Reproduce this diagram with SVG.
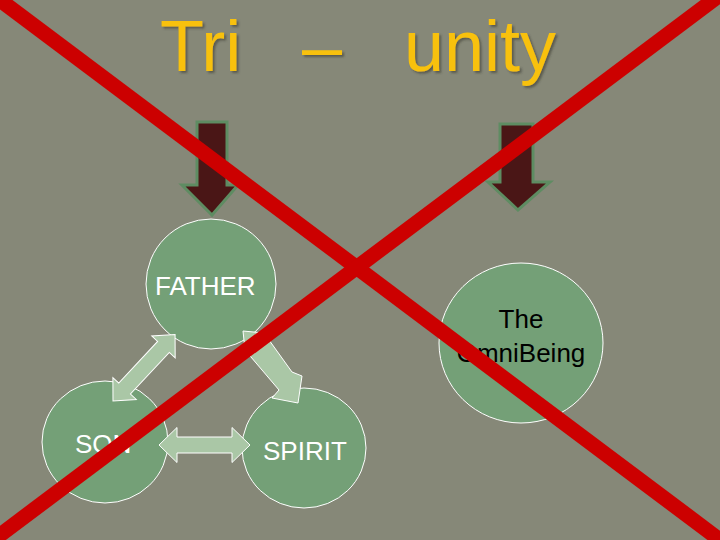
<svg xmlns="http://www.w3.org/2000/svg" width="720" height="540" viewBox="0 0 720 540">
<defs>
<filter id="ts" x="-10%" y="-10%" width="130%" height="140%">
<feDropShadow dx="2" dy="2" stdDeviation="1" flood-color="#3c3c30" flood-opacity="0.6"/>
</filter>
</defs>
<style>
.title{font-family:"Liberation Sans",Arial,sans-serif;font-size:72px;fill:#f8c10c;filter:url(#ts)}
.node{fill:#74a077;stroke:#ffffff;stroke-width:1}
.wl{font-family:"Liberation Sans",Arial,sans-serif;font-size:26px;fill:#ffffff}
.bl{font-family:"Liberation Sans",Arial,sans-serif;font-size:26px;fill:#000000;text-anchor:middle}
.down{fill:#4a1616;stroke:#5e8c62;stroke-width:3;stroke-linejoin:miter}
.link{fill:#aac7a6;stroke:#ffffff;stroke-width:1}
.cross{stroke:#cc0000;stroke-width:15;stroke-linecap:butt}
</style>
<rect width="720" height="540" fill="#868878"/>
<g id="title">
<text class="title" x="160" y="71">Tri</text>
<text class="title" x="302" y="71">–</text>
<text class="title" x="404" y="71">unity</text>
</g>
<g id="arrow-left">
<polygon class="down" points="197,122 227,122 227,185 238,185 212,215 182,185 197,185"/>
</g>
<g id="arrow-right">
<polygon class="down" points="500,124 533,124 533,182 550,182 518,210 488,182 500,182"/>
</g>
<g id="father">
<circle class="node" cx="211" cy="284" r="65"/>
<text class="wl" x="155" y="295">FATHER</text>
</g>
<g id="son">
<ellipse class="node" cx="105" cy="442" rx="63" ry="61"/>
<text class="wl" x="75" y="453">SON</text>
</g>
<g id="spirit">
<ellipse class="node" cx="304" cy="448" rx="62" ry="60"/>
<text class="wl" x="263" y="460">SPIRIT</text>
</g>
<g id="omnibeing">
<ellipse class="node" cx="521" cy="343" rx="82" ry="80"/>
<text class="bl" x="521" y="328">The</text>
<text class="bl" x="521" y="362">OmniBeing</text>
</g>
<g id="connectors">
<polygon class="link" transform="translate(113,401) rotate(-47)" points="0,0 17,-16 17,-8 74,-8 74,-16 91,0 74,16 74,8 17,8 17,16"/>
<polygon class="link" transform="translate(159,445)" points="0,0 18,-17.5 18,-8 73,-8 73,-17.5 91,0 73,17.5 73,8 18,8 18,17.5"/>
<polygon class="link" points="243,331 264,333 292,372 302,376 298,403 272,398 279,390 245,350"/>
</g>
<g id="cross">
<line class="cross" x1="-4" y1="-3" x2="724" y2="543"/>
<line class="cross" x1="724" y1="-8" x2="-4" y2="538"/>
</g>
</svg>
